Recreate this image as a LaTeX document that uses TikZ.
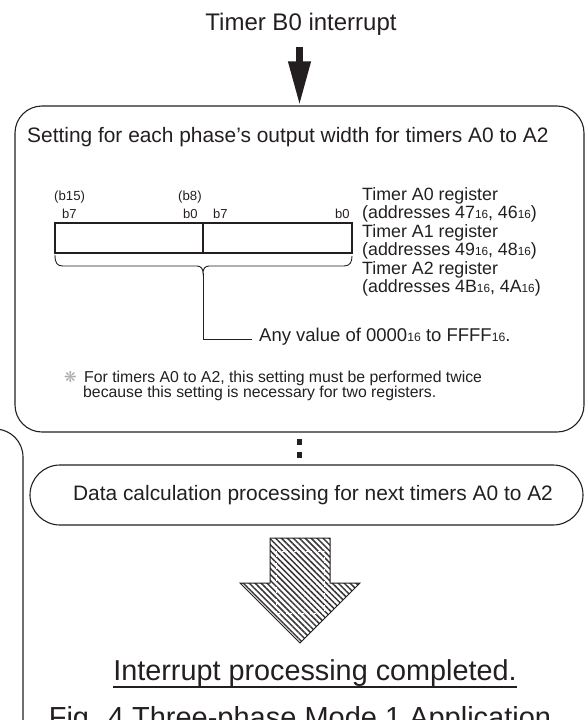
\documentclass[tikz,border=0pt]{standalone}
\usepackage{fontspec}
\setmainfont{Liberation Sans}
\newfontfamily\dingfont{DejaVu Sans}
\usetikzlibrary{arrows.meta,patterns.meta}

\definecolor{ink}{HTML}{231F20}

% small hexadecimal suffix (e.g. 47 with 16)
\newcommand\hexsub[1]{\raisebox{-0.1ex}{\scalebox{0.66}{#1}}}
\newcommand\fsz[1]{\fontsize{#1}{#1}\selectfont}

\begin{document}
\begin{tikzpicture}[x=1pt,y=-1pt,
  txt/.style={inner sep=0pt, text=ink},
  frame/.style={draw=ink, line width=1.1pt},
  regbox/.style={draw=ink, line width=1.8pt, inner sep=0pt},
  thinline/.style={draw=ink, line width=0.9pt},
  bigarrow/.style={draw=ink, line width=7pt, -{Triangle[width=21pt,length=44pt]}},
  dotline/.style={draw=ink, line width=5pt, dash pattern=on 6pt off 7pt, dash phase=7pt},
  hatch/.style={pattern={Lines[angle=-45,distance=4.2pt,line width=1.5pt]}, pattern color=ink!90}
]
\useasboundingbox (0,0) rectangle (588,720);
\clip (0,0) rectangle (588,720);

% title and entry arrow
\node[txt, anchor=base] (timer) at (301,30) {\fsz{24}Timer B0 interrupt};

% main setting box
\node[frame, rounded corners=27pt, minimum width=569pt, minimum height=326pt, inner sep=0pt]
  (box1) at (299.5,269) {};
\draw[bigarrow] ([yshift=-12pt]box1.north |- timer.south) -- (box1.north);

\node[txt, anchor=base west] (head) at (27,142)
  {\fsz{20.9}Setting for each phase’s output width for timers A0 to A2};

% register layout
\node[txt, anchor=base west] (b15) at (54,200) {\fsz{13.2}(b15)};
\node[txt, anchor=base west] (b8)  at (178,200) {\fsz{13.2}(b8)};
\node[txt, anchor=base west] (hb7) at (62,218) {\fsz{13}b7};
\node[txt, anchor=base west] (hb0) at (183,218) {\fsz{13}b0};
\node[txt, anchor=base west] (lb7) at (213,218) {\fsz{13}b7};
\node[txt, anchor=base west] (lb0) at (335,218) {\fsz{13}b0};

\node[regbox, minimum width=297pt, minimum height=30pt] (reg) at (203.5,238) {};
\draw[ink, line width=1.6pt] (203,223) -- (203,253);

\node[txt, anchor=base west] (ra0) at (362,200) {\fsz{17.8}Timer A0 register};
\node[txt, anchor=base west] (aa0) at (362,218) {\fsz{17.8}(addresses 47\hexsub{16}, 46\hexsub{16})};
\node[txt, anchor=base west] (ra1) at (362,237) {\fsz{17.8}Timer A1 register};
\node[txt, anchor=base west] (aa1) at (362,255) {\fsz{17.8}(addresses 49\hexsub{16}, 48\hexsub{16})};
\node[txt, anchor=base west] (ra2) at (362,274) {\fsz{17.8}Timer A2 register};
\node[txt, anchor=base west] (aa2) at (362,292) {\fsz{17.8}(addresses 4B\hexsub{16}, 4A\hexsub{16})};

% brace under the register and its leader
\coordinate (brtip) at (203,273);
\coordinate (anyend) at (252,339);
\draw[thinline] (55,255) .. controls (55,263) and (57,266) .. (63,266) -- (197,266)
  .. controls (201,266) and (203,269) .. (brtip)
  .. controls (203,269) and (205,266) .. (209,266) -- (344,266)
  .. controls (350,266) and (352,262) .. (352,256);
\draw[thinline] (brtip) |- (anyend);
\node[txt, anchor=base west] (anyval) at (259,341)
  {\fsz{18.5}Any value of 0000\hexsub{16} to FFFF\hexsub{16}.};

% note
\node[txt, anchor=base west, text=gray!65] (mark) at (64,382) {\fsz{15}\dingfont ❋};
\node[txt, anchor=base west] (note1) at (84,382)
  {\fsz{15.8}For timers A0 to A2, this setting must be performed twice};
\node[txt, anchor=base west] (note2) at (83,397)
  {\fsz{15.8}because this setting is necessary for two registers.};

% next processing box
\node[frame, rounded corners=30pt, minimum width=553pt, minimum height=60pt, inner sep=0pt]
  (box2) at (306.5,495) {};
\node[txt, anchor=base] (calc) at (313,500)
  {\fsz{20.9}Data calculation processing for next timers A0 to A2};
\draw[dotline] (box1.south) -- (box1.south |- box2.north);

% enclosing frame on the left
\draw[frame, rounded corners=28pt] (-40,429) -- (23,429) -- (23,760);

% hatched completion arrow
\path[hatch] (270,538) -- (330,538) -- (330,583) -- (360,583) -- (300,643)
  -- (240,583) -- (270,583) -- cycle;
\draw[white, line width=0.8pt, dash pattern=on 2pt off 2pt] (276,551) rectangle (324,613);
\draw[ink, line width=1pt, line join=miter] (270,538) -- (330,538) -- (330,583) -- (360,583)
  -- (300,643) -- (240,583) -- (270,583) -- cycle;

\node[txt, anchor=base] (done) at (315,680) {\fsz{28.8}Interrupt processing completed.};
\draw[ink, line width=1.3pt] (done.south west |- 0,687) -- (done.south east |- 0,687);

\node[txt, anchor=base] (fig) at (300,727) {\fsz{29}Fig. 4 Three-phase Mode 1 Application};
\end{tikzpicture}
\end{document}
